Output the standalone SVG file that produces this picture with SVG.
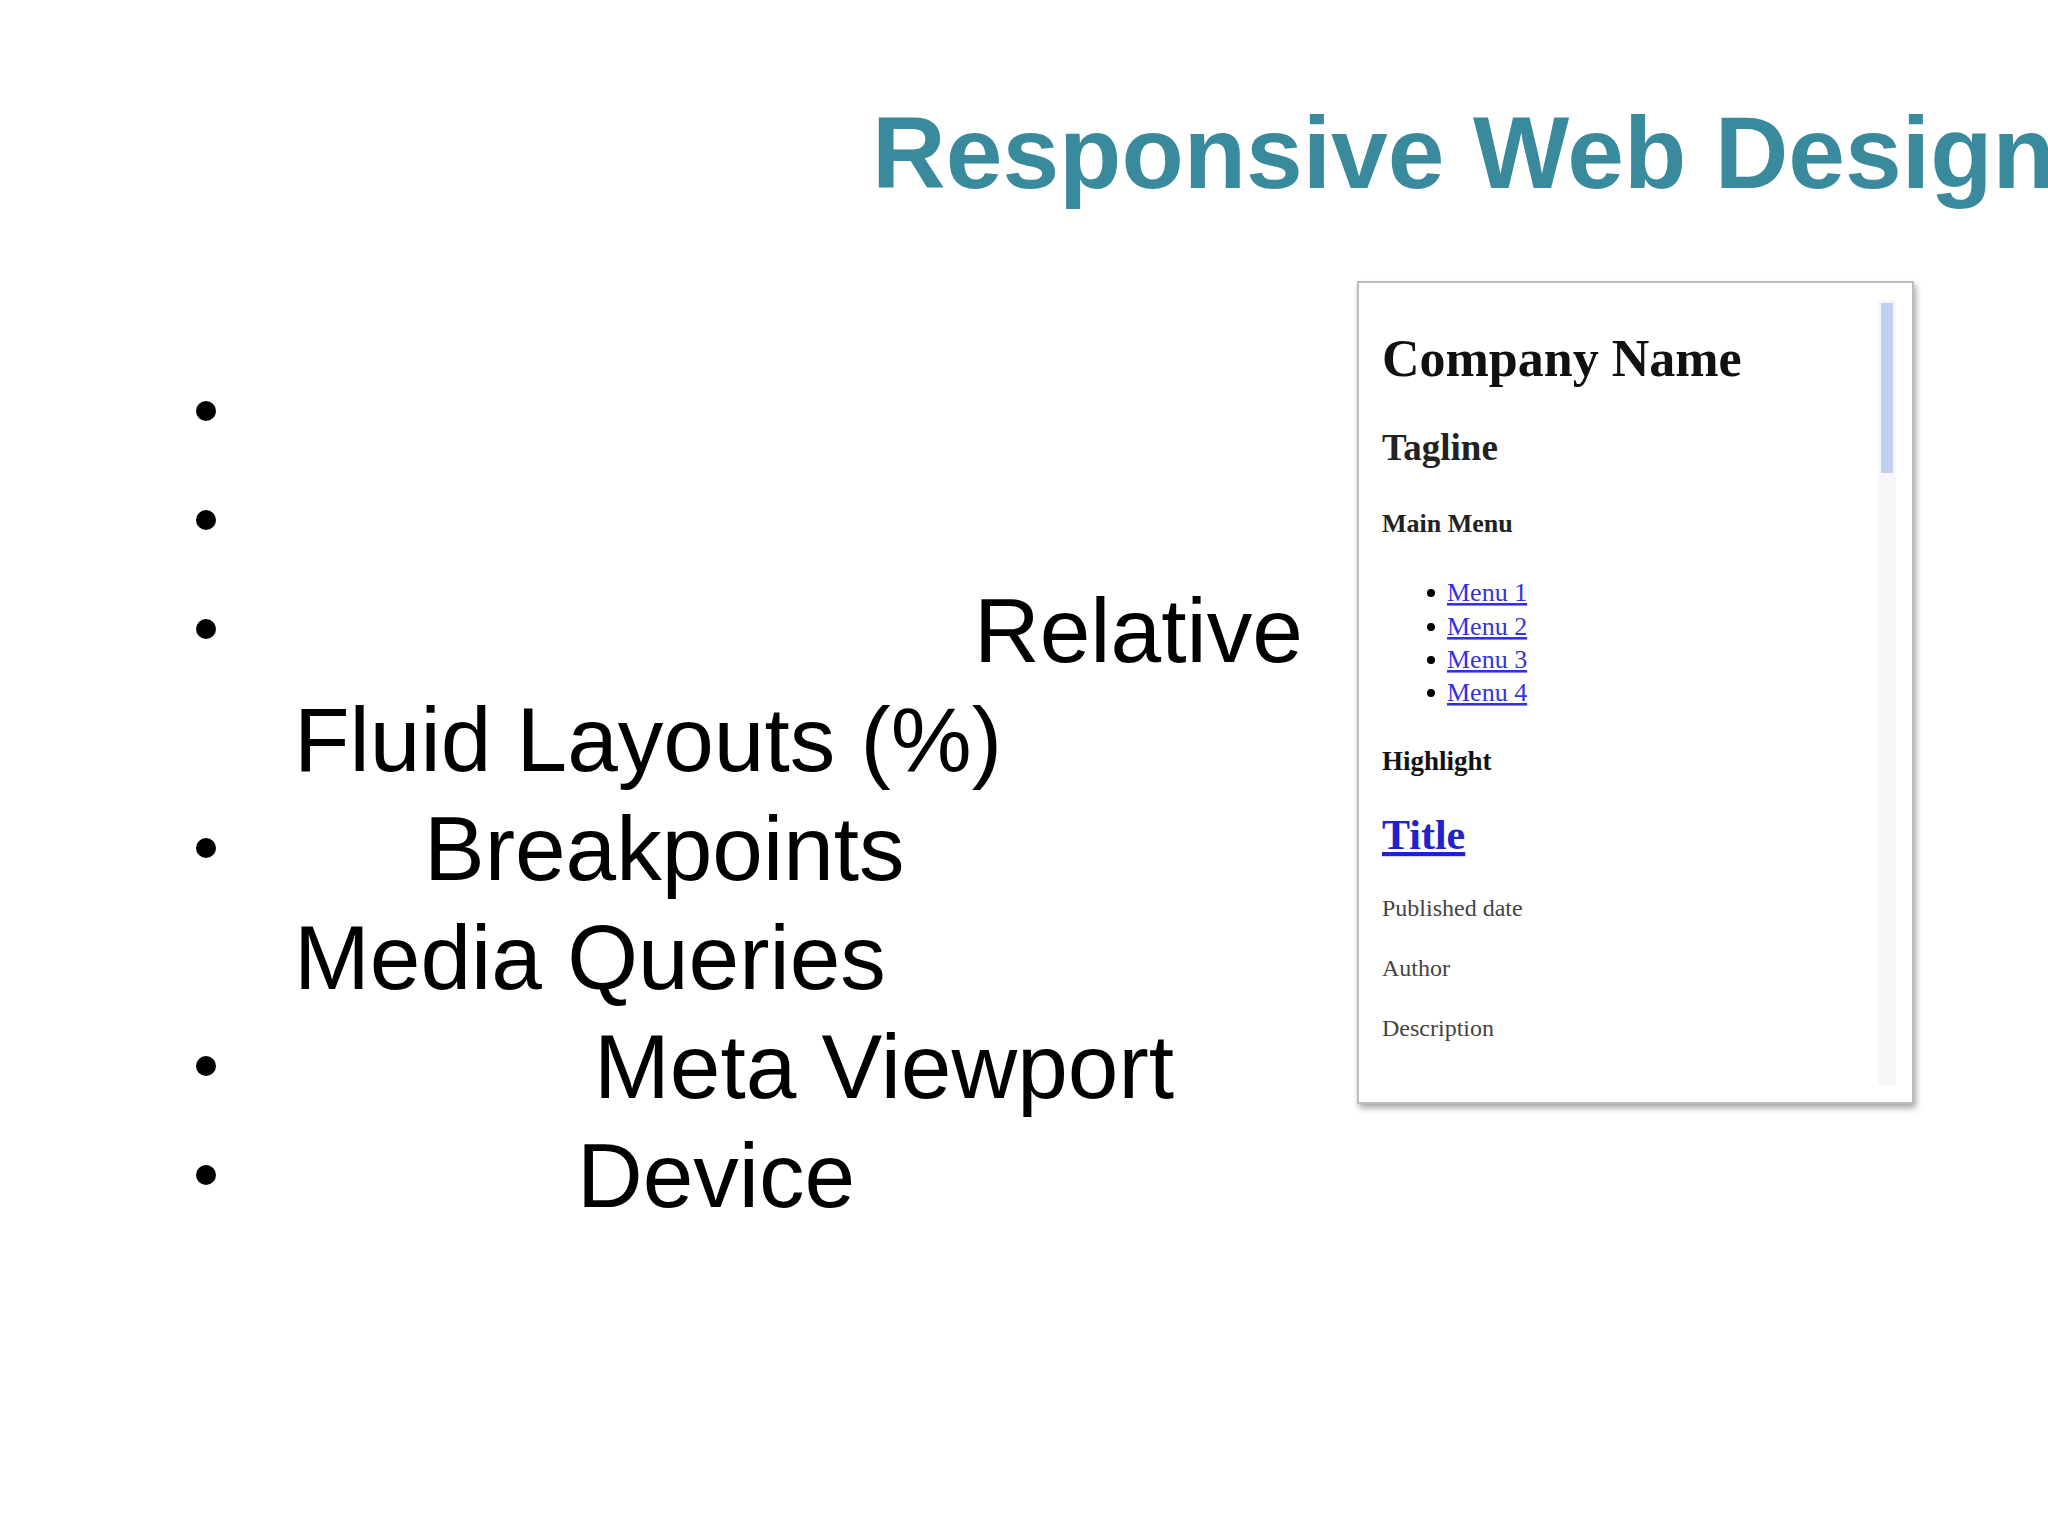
<svg xmlns="http://www.w3.org/2000/svg" width="2048" height="1536" viewBox="0 0 2048 1536">
<defs>
<style>
.b{font-family:"Liberation Sans",Arial,sans-serif;font-size:91px;fill:#000}
.s{font-family:"Liberation Serif","Times New Roman",serif}
.m{font-size:26px;fill:#3333dd;text-decoration:underline}
.g{font-size:24px;fill:#444}
</style>
<filter id="sh" x="-5%" y="-5%" width="115%" height="115%"><feDropShadow dx="2" dy="4" stdDeviation="3" flood-color="#000" flood-opacity="0.35"/></filter>
</defs>
<rect width="2048" height="1536" fill="#fff"/>
<text x="872" y="188" font-family="'Liberation Sans',Arial,sans-serif" font-weight="bold" font-size="102" fill="#3a8a9e">Responsive Web Design</text>
<g id="bullets" fill="#000">
<circle cx="206" cy="411" r="10"/><circle cx="206" cy="520" r="10"/><circle cx="206" cy="629" r="10"/>
<circle cx="206" cy="848" r="10"/><circle cx="206" cy="1066" r="10"/><circle cx="206" cy="1175" r="10"/>
</g>
<g id="list">
<text class="b" x="974" y="662">Relative</text>
<text class="b" x="294" y="771">Fluid Layouts (%)</text>
<text class="b" x="424" y="880">Breakpoints</text>
<text class="b" x="294" y="989">Media Queries</text>
<text class="b" x="594" y="1098">Meta Viewport</text>
<text class="b" x="577" y="1207">Device</text>
</g>
<g id="browser">
<rect x="1358" y="282" width="555" height="821" fill="#fff" stroke="#bbb" stroke-width="2" filter="url(#sh)"/>
<rect x="1878" y="300" width="18" height="785" fill="#f6f7f8"/>
<rect x="1881" y="303" width="12" height="170" fill="#c3cff2"/>
<text class="s" x="1382" y="376" font-size="52" font-weight="bold" fill="#111">Company Name</text>
<text class="s" x="1382" y="460" font-size="37" font-weight="bold" fill="#222">Tagline</text>
<text class="s" x="1382" y="532" font-size="26" font-weight="bold" fill="#222">Main Menu</text>
<g fill="#000"><circle cx="1431" cy="593" r="4"/><circle cx="1431" cy="627" r="4"/><circle cx="1431" cy="660" r="4"/><circle cx="1431" cy="693" r="4"/></g>
<text class="s m" x="1447" y="601">Menu 1</text>
<text class="s m" x="1447" y="635">Menu 2</text>
<text class="s m" x="1447" y="668">Menu 3</text>
<text class="s m" x="1447" y="701">Menu 4</text>
<text class="s" x="1382" y="770" font-size="27" font-weight="bold" fill="#111">Highlight</text>
<text class="s" x="1382" y="849" font-size="42" font-weight="bold" fill="#2222cc" text-decoration="underline">Title</text>
<text class="s g" x="1382" y="916">Published date</text>
<text class="s g" x="1382" y="976">Author</text>
<text class="s g" x="1382" y="1036">Description</text>
</g>
</svg>
